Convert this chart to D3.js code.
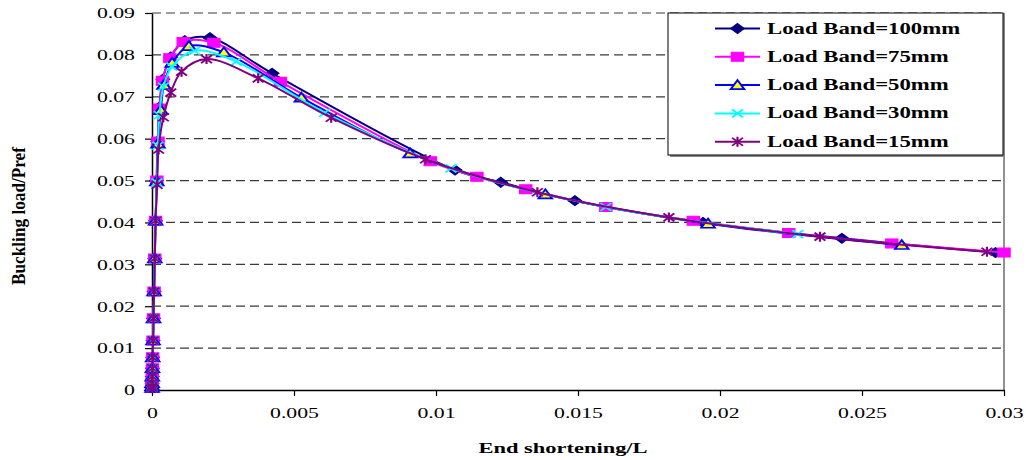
<!DOCTYPE html>
<html>
<head>
<meta charset="utf-8">
<script src="https://cdn.jsdelivr.net/npm/d3@7"></script>
<style>
  body { margin: 0; background: #fff; }
  svg { display: block; }
</style>
</head>
<body>
<div id="chart"></div>
<script>
var width = 1026;
var height = 460;
var SX = 1.45; // the picture is stretched sideways, so is its text

// data (x = end shortening/L, y = buckling load)
var band100X = [0.000002, 0.000003, 0.000005, 0.00001, 0.000016, 0.000024, 0.000037, 0.000053, 0.000073, 0.000098, 0.000126, 0.00016, 0.0002, 0.00026, 0.00038, 0.00066, 0.00115, 0.00204, 0.00423, 0.01067, 0.01228, 0.01489, 0.0194, 0.02429, 0.0297];
var band100Y = [0.0005, 0.0009, 0.0016, 0.0032, 0.0052, 0.0078, 0.0118, 0.0171, 0.0235, 0.0314, 0.0404, 0.0500, 0.0594, 0.0675, 0.0742, 0.0795, 0.0834, 0.0841, 0.0756, 0.0525, 0.0496, 0.0452, 0.0400, 0.0362, 0.0328];

var band75X = [0.000002, 0.000003, 0.000005, 0.00001, 0.000016, 0.000024, 0.000037, 0.000053, 0.000073, 0.000098, 0.000126, 0.00017, 0.00021, 0.00026, 0.00037, 0.00063, 0.0011, 0.00218, 0.00452, 0.0098, 0.01144, 0.01316, 0.01598, 0.01906, 0.02242, 0.02605, 0.0300];
var band75Y = [0.0005, 0.0009, 0.0016, 0.0032, 0.0052, 0.0078, 0.0118, 0.0171, 0.0235, 0.0314, 0.0404, 0.0500, 0.0593, 0.0672, 0.0738, 0.0792, 0.0831, 0.0829, 0.0736, 0.0546, 0.0509, 0.0479, 0.0437, 0.0404, 0.0375, 0.0350, 0.0328];

var band50X = [0.000002, 0.000003, 0.000005, 0.00001, 0.000016, 0.000024, 0.000037, 0.000053, 0.000073, 0.000098, 0.000126, 0.00017, 0.00021, 0.00031, 0.00042, 0.00071, 0.0013, 0.00253, 0.00526, 0.00909, 0.01385, 0.01958, 0.0264];
var band50Y = [0.0005, 0.0009, 0.0016, 0.0032, 0.0052, 0.0078, 0.0118, 0.0171, 0.0235, 0.0314, 0.0404, 0.0498, 0.0588, 0.0668, 0.0728, 0.0781, 0.0821, 0.0806, 0.0698, 0.0565, 0.0467, 0.0397, 0.0346];

var band30X = [0.000002, 0.000003, 0.000005, 0.00001, 0.000016, 0.000024, 0.000037, 0.000053, 0.000073, 0.000098, 0.000126, 0.00017, 0.00021, 0.00026, 0.0004, 0.0007, 0.0015, 0.00297, 0.00608, 0.01053, 0.01598, 0.02274];
var band30Y = [0.0005, 0.0009, 0.0016, 0.0032, 0.0052, 0.0078, 0.0118, 0.0171, 0.0235, 0.0314, 0.0404, 0.0495, 0.0583, 0.0656, 0.0724, 0.0772, 0.0810, 0.0784, 0.0662, 0.0529, 0.0437, 0.0372];

var band15X = [0.000002, 0.000003, 0.000005, 0.00001, 0.000016, 0.000024, 0.000037, 0.000053, 0.000073, 0.000098, 0.000126, 0.00018, 0.00023, 0.0004, 0.00066, 0.00104, 0.00192, 0.00374, 0.00631, 0.00963, 0.01357, 0.0182, 0.02352, 0.0294];
var band15Y = [0.0005, 0.0009, 0.0016, 0.0032, 0.0052, 0.0078, 0.0118, 0.0171, 0.0235, 0.0314, 0.0404, 0.0490, 0.0574, 0.0651, 0.0710, 0.0760, 0.0790, 0.0744, 0.0650, 0.0551, 0.0472, 0.0412, 0.0366, 0.0330];

var seriesNames = ["Load Band=100mm", "Load Band=75mm", "Load Band=50mm", "Load Band=30mm", "Load Band=15mm"];
var xTicks = [0, 0.005, 0.01, 0.015, 0.02, 0.025, 0.03];
var xTickLabels = ["0", "0.005", "0.01", "0.015", "0.02", "0.025", "0.03"];
var yTicks = [0, 0.01, 0.02, 0.03, 0.04, 0.05, 0.06, 0.07, 0.08, 0.09];
var yTickLabels = ["0", "0.01", "0.02", "0.03", "0.04", "0.05", "0.06", "0.07", "0.08", "0.09"];

var series = [
    {name: seriesNames[0], xs: band100X, ys: band100Y, line: "#000080", marker: "diamond"},
    {name: seriesNames[1], xs: band75X, ys: band75Y, line: "#ff00ff", marker: "square"},
    {name: seriesNames[2], xs: band50X, ys: band50Y, line: "#0000ff", marker: "triangle"},
    {name: seriesNames[3], xs: band30X, ys: band30Y, line: "#00ffff", marker: "cross"},
    {name: seriesNames[4], xs: band15X, ys: band15Y, line: "#800080", marker: "star"}
];

var plotLeft = 152, plotRight = 1004, plotTop = 13, plotBottom = 390;

var x = d3.scaleLinear().domain([0, 0.03]).range([plotLeft, plotRight]);
var y = d3.scaleLinear().domain([0, 0.09]).range([plotBottom, plotTop]);

var svg = d3.select("#chart")
    .append("svg")
    .attr("width", width)
    .attr("height", height)
    .style("font-family", "'Liberation Serif', 'Times New Roman', serif");

// dashed gridlines
svg.append("g")
    .selectAll("line")
    .data(yTicks.slice(1))
    .enter()
    .append("line")
    .attr("x1", plotLeft)
    .attr("x2", plotRight)
    .attr("y1", function(d) { return y(d); })
    .attr("y2", function(d) { return y(d); })
    .attr("stroke", "#3a3a3a")
    .attr("stroke-width", 1.2)
    .attr("stroke-dasharray", "9,5");

// right edge of plot area
svg.append("line")
    .attr("x1", plotRight).attr("x2", plotRight)
    .attr("y1", plotTop).attr("y2", plotBottom)
    .attr("stroke", "#555")
    .attr("stroke-width", 1.3);

// axes
var yAxis = svg.append("g")
    .attr("transform", "translate(" + plotLeft + ",0)")
    .call(d3.axisLeft(y)
        .tickValues(yTicks)
        .tickSize(7)
        .tickSizeOuter(0)
        .tickFormat(function(d, i) { return yTickLabels[i]; }));
yAxis.selectAll("text")
    .attr("x", null)
    .attr("transform", "translate(-17,0) scale(" + SX + ",1)")
    .attr("font-size", 15)
    .attr("font-family", "'Liberation Serif', serif")
    .attr("fill", "#000");

var xAxis = svg.append("g")
    .attr("transform", "translate(0," + plotBottom + ")")
    .call(d3.axisBottom(x)
        .tickValues(xTicks)
        .tickSize(6)
        .tickSizeOuter(0)
        .tickFormat(function(d, i) { return xTickLabels[i]; }));
xAxis.selectAll("text")
    .attr("y", null)
    .attr("dy", null)
    .attr("transform", "translate(0,28) scale(" + SX + ",1)")
    .attr("font-size", 15)
    .attr("font-family", "'Liberation Serif', serif")
    .attr("fill", "#000");

svg.selectAll(".domain").attr("stroke", "#000").attr("stroke-width", 1.5);
svg.selectAll(".tick line").attr("stroke", "#000").attr("stroke-width", 1.2);

// marker shapes
function markerPath(type) {
    if (type == "diamond") return "M0,-5L5,0L0,5L-5,0Z";
    if (type == "square") return "M-4.5,-4.5H4.5V4.5H-4.5Z";
    if (type == "triangle") return "M0,-5L5,4L-5,4Z";
    if (type == "cross") return "M-4,-4L4,4M-4,4L4,-4";
    return "M-4,-4L4,4M-4,4L4,-4M0,-5L0,5";
}

function drawMarker(g, type, cx, cy) {
    var p = g.append("path")
        .attr("d", markerPath(type))
        .attr("transform", "translate(" + cx + "," + cy + ") scale(1.35,1)");
    if (type == "diamond") p.attr("fill", "#000080").attr("stroke", "#000080");
    if (type == "square") p.attr("fill", "#ff00ff").attr("stroke", "#ff00ff");
    if (type == "triangle") p.attr("fill", "#ffff00").attr("stroke", "#0000ff").attr("stroke-width", 1.6);
    if (type == "cross") p.attr("fill", "none").attr("stroke", "#00ffff").attr("stroke-width", 1.6);
    if (type == "star") p.attr("fill", "none").attr("stroke", "#800080").attr("stroke-width", 1.6);
}

var line = d3.line()
    .x(function(d) { return x(d[0]); })
    .y(function(d) { return y(d[1]); })
    .curve(d3.curveCatmullRom.alpha(0.5));

series.forEach(function(s) {
    var pts = d3.range(s.xs.length).map(function(i) { return [s.xs[i], s.ys[i]]; });
    var g = svg.append("g");
    g.append("path")
        .datum(pts)
        .attr("d", line)
        .attr("fill", "none")
        .attr("stroke", s.line)
        .attr("stroke-width", 2);
    pts.forEach(function(p) {
        drawMarker(g, s.marker, x(p[0]), y(p[1]));
    });
});

// legend
var legend = svg.append("g");
legend.append("rect")
    .attr("x", 670).attr("y", 15)
    .attr("width", 335).attr("height", 142)
    .attr("fill", "#888");
legend.append("rect")
    .attr("x", 668).attr("y", 13)
    .attr("width", 335).attr("height", 142)
    .attr("fill", "#fff")
    .attr("stroke", "#000")
    .attr("stroke-width", 1);

series.forEach(function(s, i) {
    var ly = 28.5 + i * 28.3;
    legend.append("line")
        .attr("x1", 715).attr("x2", 760)
        .attr("y1", ly).attr("y2", ly)
        .attr("stroke", s.line)
        .attr("stroke-width", 2);
    drawMarker(legend, s.marker, 737.5, ly);
    legend.append("text")
        .attr("transform", "translate(767," + (ly + 5) + ") scale(" + SX + ",1)")
        .attr("font-size", 15.7)
        .attr("font-weight", "bold")
        .text(s.name);
});

// axis titles
svg.append("text")
    .attr("transform", "translate(563,453) scale(" + SX + ",1)")
    .attr("text-anchor", "middle")
    .attr("font-size", 15.5)
    .attr("font-weight", "bold")
    .text("End shortening/L");

svg.append("text")
    .attr("transform", "translate(25,216) scale(1.3,1) rotate(-90)")
    .attr("text-anchor", "middle")
    .attr("font-size", 15)
    .attr("font-weight", "bold")
    .attr("textLength", 138)
    .attr("lengthAdjust", "spacingAndGlyphs")
    .text("Buckling load/Pref");
</script>
</body>
</html>
